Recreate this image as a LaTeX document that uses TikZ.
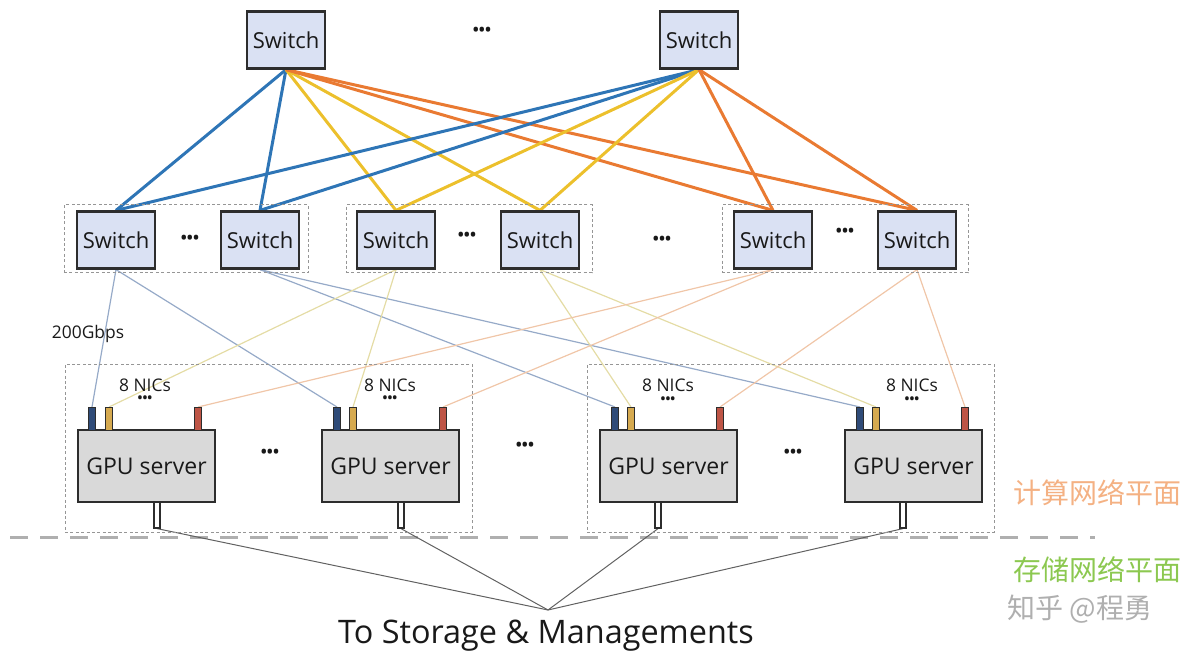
\documentclass[tikz,border=0pt]{standalone}
\usepackage{fontspec}
\setmainfont{Open Sans}
\newfontfamily\cjk{Noto Sans CJK SC}
\usetikzlibrary{backgrounds}

\definecolor{swfill}{RGB}{218,225,243}
\definecolor{srvfill}{RGB}{217,217,217}
\definecolor{edge}{RGB}{45,45,45}
\definecolor{railblue}{RGB}{46,117,182}
\definecolor{railyellow}{RGB}{236,192,44}
\definecolor{railorange}{RGB}{233,122,50}
\definecolor{paleblue}{RGB}{150,170,200}
\definecolor{paleyellow}{RGB}{228,220,165}
\definecolor{paleorange}{RGB}{240,198,168}
\definecolor{nicblue}{RGB}{47,75,120}
\definecolor{nicyellow}{RGB}{214,170,80}
\definecolor{nicred}{RGB}{190,85,70}
\definecolor{groupgray}{RGB}{150,150,150}
\definecolor{planeline}{RGB}{175,175,175}
\definecolor{computelabel}{RGB}{244,177,131}
\definecolor{storagelabel}{RGB}{140,200,80}
\definecolor{markgray}{RGB}{175,175,175}
\definecolor{ink}{RGB}{25,25,25}

\tikzset{
  switchbox/.style={draw=edge, line width=1.1pt, fill=swfill, minimum width=39pt,
    minimum height=28.5pt, inner sep=0pt, text=ink, font=\fontsize{11}{12}\selectfont},
  serverbox/.style={draw=edge, line width=1.1pt, fill=srvfill, minimum width=68.5pt,
    minimum height=36pt, inner sep=0pt, text=ink, font=\fontsize{11.5}{14}\selectfont},
  nic/.style={draw=edge, line width=0.5pt, minimum width=3.5pt, minimum height=11.5pt, inner sep=0pt},
  port/.style={draw=edge, line width=0.6pt, fill=white, minimum width=3pt, minimum height=13pt, inner sep=0pt},
  groupbox/.style={draw=groupgray, line width=0.5pt, dash pattern=on 1.5pt off 1.2pt, inner sep=0pt},
  uplink/.style={line width=1.5pt},
  downlink/.style={line width=0.6pt},
  mgmtlink/.style={draw=edge!75, line width=0.5pt},
  tdots/.style={inner sep=0pt, text=ink, font=\fontsize{8}{8}\selectfont\bfseries},
  sdots/.style={inner sep=0pt, text=ink, font=\fontsize{6.5}{7}\selectfont\bfseries},
  lbl/.style={inner sep=0pt, text=ink},
}

\begin{document}
\begin{tikzpicture}[x=0.5pt, y=-0.5pt]
\useasboundingbox (0,0) rectangle (1194,663);

% spine switches
\node[switchbox] (T1) at (286,40) {Switch};
\node[switchbox] (T2) at (699,40) {Switch};
\node[tdots] (tdA) at (482,31) {•••};

% leaf switch groups
\node[groupbox, minimum width=122pt, minimum height=34pt] (G1) at (186,239) {};
\node[groupbox, minimum width=123pt, minimum height=34pt] (G2) at (469,239) {};
\node[groupbox, minimum width=123pt, minimum height=34pt] (G3) at (845,239) {};

\node[switchbox] (S1) at (116,240) {Switch};
\node[switchbox] (S2) at (260,240) {Switch};
\node[switchbox] (S3) at (396,240) {Switch};
\node[switchbox] (S4) at (540,240) {Switch};
\node[switchbox] (S5) at (773,240) {Switch};
\node[switchbox] (S6) at (917,240) {Switch};

\node[tdots] (ldA) at (190,239) {•••};
\node[tdots] (ldB) at (467,236) {•••};
\node[tdots] (ldC) at (662,240) {•••};
\node[tdots] (ldD) at (845,232) {•••};

% server groups
\node[groupbox, minimum width=203.5pt, minimum height=84pt] (H1) at (268.5,448) {};
\node[groupbox, minimum width=203.5pt, minimum height=84pt] (H2) at (790.5,448) {};

% GPU servers
\node[serverbox] (P1) at (146.5,466) {GPU server};
\node[serverbox] (P2) at (390.5,466) {GPU server};
\node[serverbox] (P3) at (668.5,466) {GPU server};
\node[serverbox] (P4) at (913.5,466) {GPU server};

\node[tdots] (sdA) at (270,453) {•••};
\node[tdots] (sdB) at (525,446) {•••};
\node[tdots] (sdC) at (793,453) {•••};

% NICs on top of each server
\foreach \s/\xb/\xy/\xr in {P1/92/109/198, P2/337/353/443, P3/615/631/720, P4/860/876/965} {
  \node[nic, fill=nicblue]   (\s b) at (\xb,419) {};
  \node[nic, fill=nicyellow] (\s y) at (\xy,419) {};
  \node[nic, fill=nicred]    (\s r) at (\xr,419) {};
}

% NIC labels
\node[lbl, font=\fontsize{8.7}{10}\selectfont] (n1) at (145,385) {8 NICs};
\node[lbl, font=\fontsize{8.7}{10}\selectfont] (n2) at (390,385) {8 NICs};
\node[lbl, font=\fontsize{8.7}{10}\selectfont] (n3) at (668,385) {8 NICs};
\node[lbl, font=\fontsize{8.7}{10}\selectfont] (n4) at (912,385) {8 NICs};
\node[sdots] (nd1) at (145,399) {•••};
\node[sdots] (nd2) at (390,399) {•••};
\node[sdots] (nd3) at (668,400) {•••};
\node[sdots] (nd4) at (912,400) {•••};

% management ports under each server
\node[port] (P1p) at (157,515) {};
\node[port] (P2p) at (401,515) {};
\node[port] (P3p) at (658,515) {};
\node[port] (P4p) at (903,515) {};

\coordinate (hub) at (548,610);

% link rate label
\node[lbl, font=\fontsize{8.7}{10}\selectfont] (rate) at (88,334) {200Gbps};

% plane labels
\node[lbl, font=\cjk\fontsize{14}{16}\selectfont, text=computelabel] (cl) at (1097,493) {计算网络平面};
\node[lbl, font=\cjk\fontsize{14}{16}\selectfont, text=storagelabel] (sl) at (1097,570) {存储网络平面};
\node[lbl, font=\cjk\fontsize{14}{16}\selectfont, text=markgray] (wm) at (1080,609) {知乎 @程勇};

% storage caption
\node[lbl, font=\fontsize{16.2}{19}\selectfont] (cap) at (546,636) {To Storage \& Managements};

\begin{pgfonlayer}{background}
  % spine to leaf uplinks
  \foreach \t in {T1,T2} {
    \draw[uplink, railblue]   (\t.south) -- (S1.north);
    \draw[uplink, railblue]   (\t.south) -- (S2.north);
    \draw[uplink, railyellow] (\t.south) -- (S3.north);
    \draw[uplink, railyellow] (\t.south) -- (S4.north);
    \draw[uplink, railorange] (\t.south) -- (S5.north);
    \draw[uplink, railorange] (\t.south) -- (S6.north);
  }
  % leaf to NIC downlinks (one rail per leaf group)
  \draw[downlink, paleblue] (S1.south) -- (P1b.north);
  \draw[downlink, paleblue] (S1.south) -- (P2b.north);
  \draw[downlink, paleblue] (S2.south) -- (P3b.north);
  \draw[downlink, paleblue] (S2.south) -- (P4b.north);
  \draw[downlink, paleyellow] (S3.south) -- (P1y.north);
  \draw[downlink, paleyellow] (S3.south) -- (P2y.north);
  \draw[downlink, paleyellow] (S4.south) -- (P3y.north);
  \draw[downlink, paleyellow] (S4.south) -- (P4y.north);
  \draw[downlink, paleorange] (S5.south) -- (P1r.north);
  \draw[downlink, paleorange] (S5.south) -- (P2r.north);
  \draw[downlink, paleorange] (S6.south) -- (P3r.north);
  \draw[downlink, paleorange] (S6.south) -- (P4r.north);
  % plane separator
  \draw[planeline, line width=1.5pt, dash pattern=on 9pt off 6pt] (10,537) -- (1095,537);
  % storage / management links
  \foreach \p in {P1p,P2p,P3p,P4p} {
    \draw[mgmtlink] (\p.south) -- (hub);
  }
\end{pgfonlayer}
\end{tikzpicture}
\end{document}
